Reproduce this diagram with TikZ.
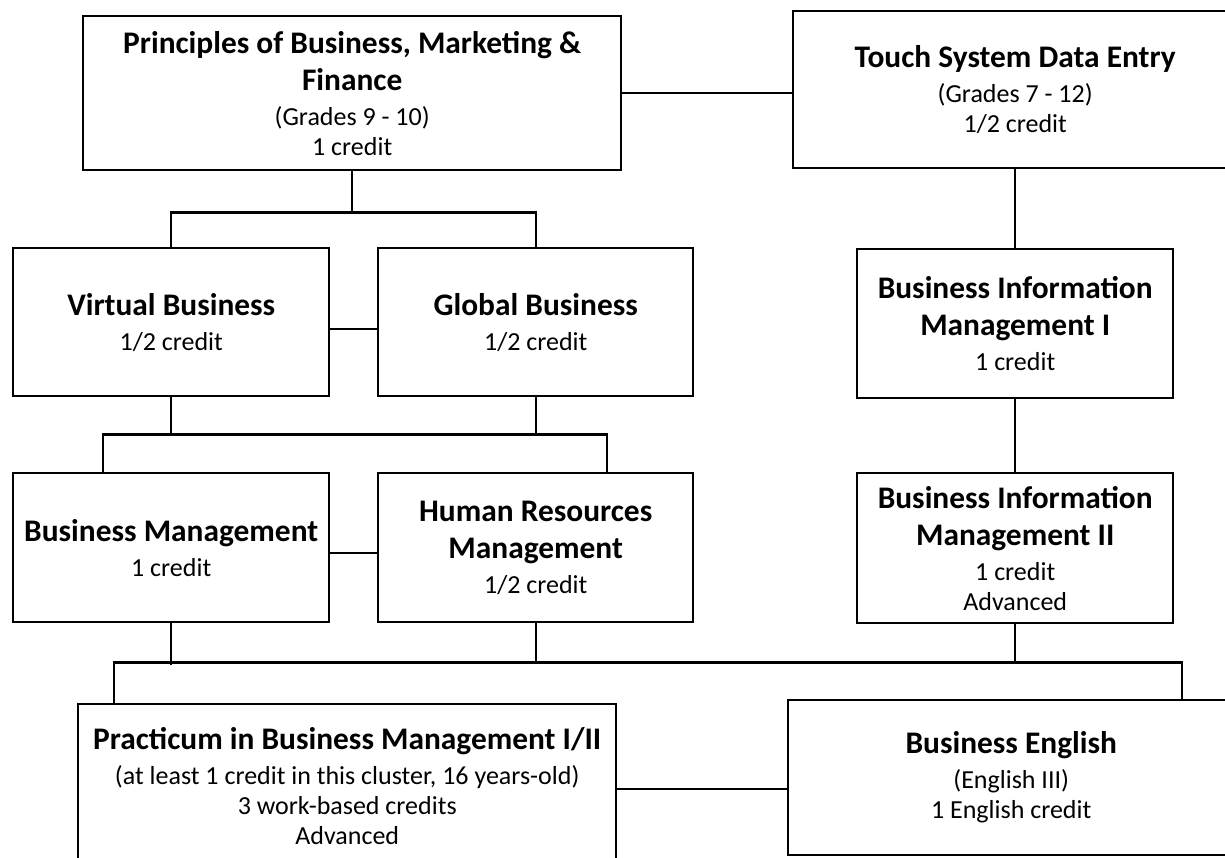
\documentclass[tikz,border=0pt]{standalone}
\usepackage{fontspec}
\setmainfont{Carlito}
\usepackage{tikz}
\usetikzlibrary{positioning}

\newcommand{\ttl}[1]{{\fontsize{15.7}{18.5}\selectfont\bfseries #1}}

\begin{document}
\begin{tikzpicture}[x=0.5pt,y=-0.5pt,
  course/.style 2 args={draw=black, line width=1.2pt, inner sep=0pt, anchor=north west,
    align=center, minimum width=#1*0.5pt, minimum height=#2*0.5pt,
    font=\fontsize{13}{15}\selectfont},
  link/.style={draw=black, line width=1.2pt}]
\useasboundingbox (0,0) rectangle (1225,857);
% boxes
\node [course={538}{154}] (pbmf) at (82,15) {\ttl{Principles of Business, Marketing \&}\\[3.5pt]\ttl{Finance}\\[2.5pt](Grades 9 - 10)\\1 credit};
\node [course={444}{157}] (touch) at (792,10) {\ttl{Touch System Data Entry}\\[2.5pt](Grades 7 - 12)\\1/2 credit};
\node [course={316}{148}] (vb) at (12,247) {\ttl{Virtual Business}\\[2.5pt]1/2 credit};
\node [course={315}{148}] (gb) at (377,247) {\ttl{Global Business}\\[2.5pt]1/2 credit};
\node [course={316}{149}] (bim1) at (856,248) {\ttl{Business Information}\\[3.5pt]\ttl{Management I}\\[2.5pt]1 credit};
\node [course={316}{149}] (bm) at (12,472) {\ttl{Business Management}\\[2.5pt]1 credit};
\node [course={315}{149}] (hrm) at (377,472) {\ttl{Human Resources}\\[3.5pt]\ttl{Management}\\[2.5pt]1/2 credit};
\node [course={316}{150}] (bim2) at (856,472) {\ttl{Business Information}\\[3.5pt]\ttl{Management II}\\[2.5pt]1 credit\\Advanced};
\node [course={538}{164}] (prac) at (77,703) {\ttl{Practicum in Business Management I/II}\\[2.5pt](at least 1 credit in this cluster, 16 years-old)\\3 work-based credits\\Advanced};
\node [course={446}{155}] (be) at (787,699) {\ttl{Business English}\\[2.5pt](English III)\\1 English credit};
% side links
\draw [link] (pbmf.east) -- (pbmf.east -| touch.west);
\draw [link] ([yshift=-3.5pt]vb.east) -- ([yshift=-3.5pt]vb.east -| gb.west);
\draw [link] ([yshift=-2.5pt]bm.east) -- ([yshift=-2.5pt]bm.east -| hrm.west);
\draw [link] ([yshift=-1.5pt]prac.east) -- ([yshift=-1.5pt]prac.east -| be.west);
% right column
\draw [link] (touch.south -| bim1.north) -- (bim1.north);
\draw [link] (bim1.south) -- (bim2.north);
% first split
\draw [link] (pbmf.south) -- ++(0,41) coordinate (bar1);
\draw [link] (vb.north) |- (bar1) -| (gb.north);
% second split
\draw [link] (vb.south) -- ++(0,37) coordinate (bar2a);
\draw [link] (gb.south) -- ++(0,37) coordinate (bar2b);
\draw [link] (bar2a) -- (bar2b);
\draw [link] (bm.north west) ++(91,0) |- (bar2a);
\draw [link] (hrm.north west) ++(230,0) |- (bar2b);
% bottom bar
\draw [link] (bm.south) -- ++(0,42);
\draw [link] (hrm.south) -- ++(0,39) coordinate (bar3);
\draw [link] (bim2.south) -- (bim2.south |- bar3);
\draw [link] (prac.north west) ++(37,0) |- (bar3);
\draw [link] (be.north west) ++(395,0) |- (bar3);
\end{tikzpicture}
\end{document}
